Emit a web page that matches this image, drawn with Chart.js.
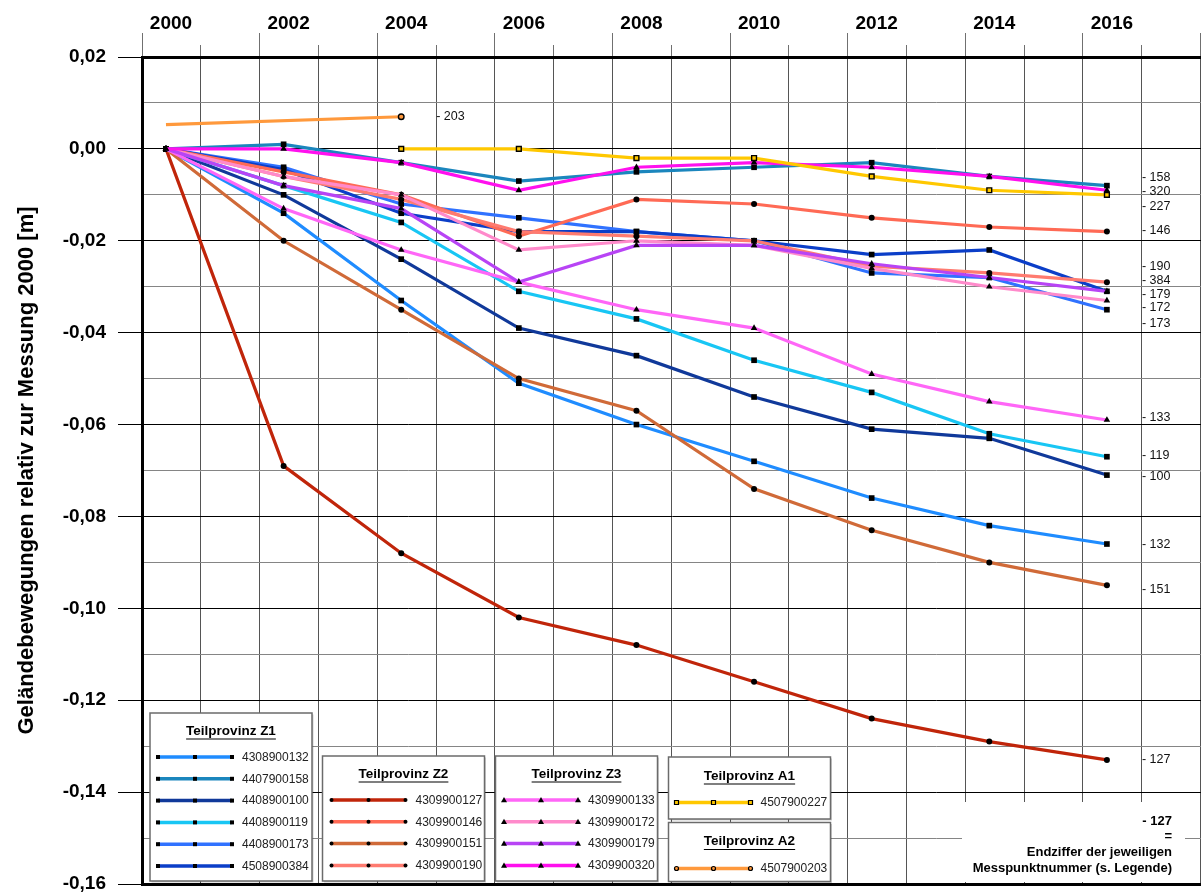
<!DOCTYPE html>
<html lang="de">
<head>
<meta charset="utf-8">
<title>Geländebewegungen relativ zur Messung 2000</title>
<script src="https://cdn.jsdelivr.net/npm/chart.js@4.4.1/dist/chart.umd.min.js"></script>
<style>
  html, body { margin: 0; padding: 0; background: #fff; }
  canvas { display: block; }
</style>
</head>
<body>
<canvas id="chart" width="1201" height="893"></canvas>
<script>
const FONT = "'Liberation Sans', Arial, sans-serif";

// Messjahre / Achsenbeschriftung
const years = [2000, 2002, 2004, 2006, 2008, 2010, 2012, 2014, 2016];
const yearLabels = ['2000', '2002', '2004', '2006', '2008', '2010', '2012', '2014', '2016'];

// Teilprovinz Z1 (Werte in m)
const mp4308900132 = [0, -0.014, -0.033, -0.051, -0.060, -0.068, -0.076, -0.082, -0.086];
const mp4407900158 = [0, 0.001, -0.003, -0.007, -0.005, -0.004, -0.003, -0.006, -0.008];
const mp4408900100 = [0, -0.010, -0.024, -0.039, -0.045, -0.054, -0.061, -0.063, -0.071];
const mp4408900119 = [0, -0.008, -0.016, -0.031, -0.037, -0.046, -0.053, -0.062, -0.067];
const mp4408900173 = [0, -0.004, -0.012, -0.015, -0.018, -0.020, -0.027, -0.028, -0.035];
const mp4508900384 = [0, -0.0045, -0.014, -0.018, -0.018, -0.020, -0.023, -0.022, -0.031];

// Teilprovinz Z2
const mp4309900127 = [0, -0.069, -0.088, -0.102, -0.108, -0.116, -0.124, -0.129, -0.133];
const mp4309900146 = [0, -0.005, -0.010, -0.019, -0.011, -0.012, -0.015, -0.017, -0.018];
const mp4309900151 = [0, -0.020, -0.035, -0.050, -0.057, -0.074, -0.083, -0.090, -0.095];
const mp4309900190 = [0, -0.006, -0.011, -0.018, -0.019, -0.020, -0.0255, -0.027, -0.029];

// Teilprovinz Z3
const mp4309900133 = [0, -0.013, -0.022, -0.029, -0.035, -0.039, -0.049, -0.055, -0.059];
const mp4309900172 = [0, -0.006, -0.010, -0.022, -0.020, -0.021, -0.026, -0.030, -0.033];
const mp4309900179 = [0, -0.008, -0.013, -0.029, -0.021, -0.021, -0.025, -0.028, -0.031];
const mp4309900320 = [0, 0.000, -0.003, -0.009, -0.004, -0.003, -0.004, -0.006, -0.009];

// Teilprovinz A1 / A2
const mp4507900227 = [null, null, 0.000, 0.000, -0.002, -0.002, -0.006, -0.009, -0.010];
const mp4507900203 = [0.0053, null, 0.007, null, null, null, null, null, null];

const groups = [
  { title: 'Teilprovinz Z1', members: ['4308900132', '4407900158', '4408900100', '4408900119', '4408900173', '4508900384'] },
  { title: 'Teilprovinz Z2', members: ['4309900127', '4309900146', '4309900151', '4309900190'] },
  { title: 'Teilprovinz Z3', members: ['4309900133', '4309900172', '4309900179', '4309900320'] },
  { title: 'Teilprovinz A1', members: ['4507900227'] },
  { title: 'Teilprovinz A2', members: ['4507900203'] }
];

let idx = 0;
function serie(label, values, color, style, fill, border) {
  idx++;
  return {
    label: label,
    data: years.map((yr, i) => ({ x: yr, y: values[i] })),
    borderColor: color,
    backgroundColor: color,
    borderWidth: 3.2,
    tension: 0,
    spanGaps: true,
    order: -idx, // spaetere Reihen liegen oben
    pointStyle: style,
    pointRadius: style === 'rect' ? 4 : (style === 'triangle' ? 3.8 : 3),
    pointBackgroundColor: fill || '#000',
    pointBorderColor: border || '#000',
    pointBorderWidth: fill ? 1.4 : 0,
    pointHoverRadius: 0
  };
}

const datasets = [
  serie('4308900132', mp4308900132, '#1f8cff', 'rect'),
  serie('4407900158', mp4407900158, '#1b86bd', 'rect'),
  serie('4408900100', mp4408900100, '#10399a', 'rect'),
  serie('4408900119', mp4408900119, '#18c6f4', 'rect'),
  serie('4408900173', mp4408900173, '#3072ff', 'rect'),
  serie('4508900384', mp4508900384, '#0b3ec8', 'rect'),
  serie('4309900127', mp4309900127, '#c0250a', 'circle'),
  serie('4309900146', mp4309900146, '#ff6a55', 'circle'),
  serie('4309900151', mp4309900151, '#d06a38', 'circle'),
  serie('4309900190', mp4309900190, '#ff7b70', 'circle'),
  serie('4309900133', mp4309900133, '#ff66f7', 'triangle'),
  serie('4309900172', mp4309900172, '#ff8acb', 'triangle'),
  serie('4309900179', mp4309900179, '#b844f5', 'triangle'),
  serie('4309900320', mp4309900320, '#ff10ee', 'triangle'),
  serie('4507900227', mp4507900227, '#ffc800', 'rect', '#ffc800'),
  serie('4507900203', mp4507900203, '#ff993c', 'circle', '#ff993c')
];
// Startpunkt von 203 ohne Marker
datasets[15].pointRadius = [0, 0, 2.8, 0, 0, 0, 0, 0, 0];
datasets[14].pointRadius = 3.4;

function marker(ctx, style, x, y, r, fill, stroke, bw) {
  ctx.beginPath();
  if (style === 'rect') {
    ctx.rect(x - r, y - r, 2 * r, 2 * r);
  } else if (style === 'triangle') {
    ctx.moveTo(x, y - r);
    ctx.lineTo(x + r, y + r * 0.75);
    ctx.lineTo(x - r, y + r * 0.75);
    ctx.closePath();
  } else {
    ctx.arc(x, y, r, 0, Math.PI * 2);
  }
  ctx.fillStyle = fill;
  ctx.fill();
  if (bw) {
    ctx.lineWidth = bw;
    ctx.strokeStyle = stroke;
    ctx.stroke();
  }
}

// Legendenkaesten, Endziffern und Hinweis
const annotations = {
  id: 'annotations',
  afterDatasetsDraw(chart) {
    const ctx = chart.ctx;
    const xs = chart.scales.x;
    const ys = chart.scales.y;
    const byLabel = {};
    chart.data.datasets.forEach(ds => { byLabel[ds.label] = ds; });

    // Endziffern rechts neben den Kurven
    const labelAt = {
      '158': -0.0062, '320': -0.0093, '227': -0.0125, '146': -0.0178,
      '190': -0.0257, '384': -0.0287, '179': -0.0318, '172': -0.0346, '173': -0.0380,
      '133': -0.0585, '119': -0.0667, '100': -0.0713, '132': -0.0861, '151': -0.0959,
      '127': -0.1330, '203': 0.0070
    };
    ctx.save();
    ctx.font = '12.5px ' + FONT;
    ctx.fillStyle = '#111';
    ctx.textAlign = 'left';
    ctx.textBaseline = 'middle';
    Object.keys(labelAt).forEach(k => {
      const x = xs.getPixelForValue(k === '203' ? 2004 : 2016) + 35;
      ctx.fillText('- ' + k, x, ys.getPixelForValue(labelAt[k]));
    });
    ctx.restore();

    // Hinweis unten rechts
    ctx.save();
    ctx.fillStyle = '#fff';
    ctx.fillRect(962, 802, 223, 80);
    ctx.fillStyle = '#000';
    ctx.font = 'bold 13px ' + FONT;
    ctx.textAlign = 'right';
    ctx.textBaseline = 'middle';
    ctx.fillText('- 127', 1172, 821);
    ctx.fillText('=', 1172, 836);
    ctx.fillText('Endziffer der jeweiligen', 1172, 852);
    ctx.fillText('Messpunktnummer (s. Legende)', 1172, 868);
    ctx.restore();

    const boxes = [
      { x: 150, y: 713, w: 162, h: 168, tx: 231, ty: 731, row0: 757, lx: 158 },
      { x: 322.5, y: 756, w: 162, h: 125, tx: 403.5, ty: 774, row0: 800, lx: 331.5 },
      { x: 495.5, y: 756, w: 162, h: 125, tx: 576.5, ty: 774, row0: 800, lx: 504 },
      { x: 668.5, y: 757, w: 162, h: 62, tx: 749.5, ty: 776, row0: 802.5, lx: 676.5 },
      { x: 668.5, y: 822.5, w: 162, h: 59, tx: 749.5, ty: 841.5, row0: 868.5, lx: 676.5 }
    ];
    groups.forEach((g, gi) => {
      const b = boxes[gi];
      ctx.save();
      ctx.fillStyle = 'rgba(0,0,0,0.18)';
      ctx.fillRect(b.x + 1.5, b.y + 1.5, b.w, b.h);
      ctx.fillStyle = '#fff';
      ctx.fillRect(b.x, b.y, b.w, b.h);
      ctx.strokeStyle = '#6b6b6b';
      ctx.lineWidth = 1.5;
      ctx.strokeRect(b.x, b.y, b.w, b.h);

      ctx.fillStyle = '#000';
      ctx.font = 'bold 13.5px ' + FONT;
      ctx.textAlign = 'center';
      ctx.textBaseline = 'middle';
      ctx.fillText(g.title, b.tx, b.ty);
      const tw = ctx.measureText(g.title).width;
      ctx.beginPath();
      ctx.moveTo(b.tx - tw / 2, b.ty + 8);
      ctx.lineTo(b.tx + tw / 2, b.ty + 8);
      ctx.lineWidth = 1.2;
      ctx.strokeStyle = '#000';
      ctx.stroke();

      g.members.forEach((name, i) => {
        const ds = byLabel[name];
        const y = b.row0 + i * 21.8;
        ctx.beginPath();
        ctx.moveTo(b.lx, y);
        ctx.lineTo(b.lx + 74, y);
        ctx.strokeStyle = ds.borderColor;
        ctx.lineWidth = 3.5;
        ctx.stroke();
        const hollow = ds.pointBorderWidth > 0;
        const r = ds.pointStyle === 'triangle' ? 3 : 2;
        [0, 37, 74].forEach(dx => {
          marker(ctx, ds.pointStyle, b.lx + dx, y, r,
            hollow ? ds.pointBackgroundColor : '#000', '#000', hollow ? 1.2 : 0);
        });
        ctx.fillStyle = '#222';
        ctx.font = '12px ' + FONT;
        ctx.textAlign = 'left';
        ctx.fillText(name, b.lx + 84, y + 0.5);
      });
      ctx.restore();
    });
  }
};

const xMin = 1999.592;
const isMajorY = v => Math.round(v * 100) % 2 === 0;

new Chart(document.getElementById('chart').getContext('2d'), {
  type: 'line',
  data: { datasets: datasets },
  options: {
    responsive: false,
    animation: false,
    devicePixelRatio: 1,
    layout: { autoPadding: false, padding: { left: 0, right: 0, top: 0, bottom: 9 } },
    plugins: {
      legend: { display: false },
      tooltip: { enabled: false }
    },
    scales: {
      x: {
        type: 'linear',
        position: 'top',
        min: xMin,
        max: 2017.6,
        afterFit: s => {
          s.height = 57;
          s.paddingLeft = 0;
          s.paddingRight = 0;
        },
        afterBuildTicks: s => {
          const t = [];
          for (let k = 0; k <= 18; k++) t.push({ value: xMin + k });
          s.ticks = t;
        },
        ticks: {
          autoSkip: false,
          maxRotation: 0,
          padding: 0,
          labelOffset: 29,
          color: '#000',
          font: { family: FONT, size: 19, weight: 'bold', lineHeight: 1 },
          callback: (v, i) => (i % 2 === 0 && yearLabels[i / 2]) ? yearLabels[i / 2] : ''
        },
        grid: {
          color: '#555',
          lineWidth: 1,
          tickLength: 24,
          tickColor: '#707070',
          tickWidth: 1,
          tickBorderDash: c => (c.index % 2 ? [0, 12, 12, 60] : []),
          tickBorderDashOffset: 0
        },
        border: { display: true, color: '#000', width: 3 }
      },
      y: {
        type: 'linear',
        min: -0.16,
        max: 0.02,
        afterFit: s => {
          s.width = 142;
          s.paddingTop = 0;
          s.paddingBottom = 0;
        },
        title: {
          display: true,
          text: 'Geländebewegungen relativ zur Messung 2000 [m]',
          color: '#000',
          font: { family: FONT, size: 22, weight: 'bold' },
          padding: { top: 14, bottom: 0 }
        },
        ticks: {
          stepSize: 0.01,
          padding: 12,
          color: '#000',
          font: { family: FONT, size: 19, weight: 'bold' },
          callback: v => {
            if (!isMajorY(v)) return '';
            if (Math.abs(v) < 1e-9) return '0,00';
            return v.toFixed(2).replace('.', ',');
          }
        },
        grid: {
          color: c => (isMajorY(c.tick.value) ? '#000' : '#858585'),
          lineWidth: c => (c.tick.value < -0.1595 ? 3 : 1),
          tickLength: 24,
          tickWidth: 1,
          tickColor: c => (isMajorY(c.tick.value) ? '#000' : 'rgba(0,0,0,0)')
        },
        border: { display: true, color: '#000', width: 3 }
      }
    }
  },
  plugins: [annotations]
});
</script>
</body>
</html>
